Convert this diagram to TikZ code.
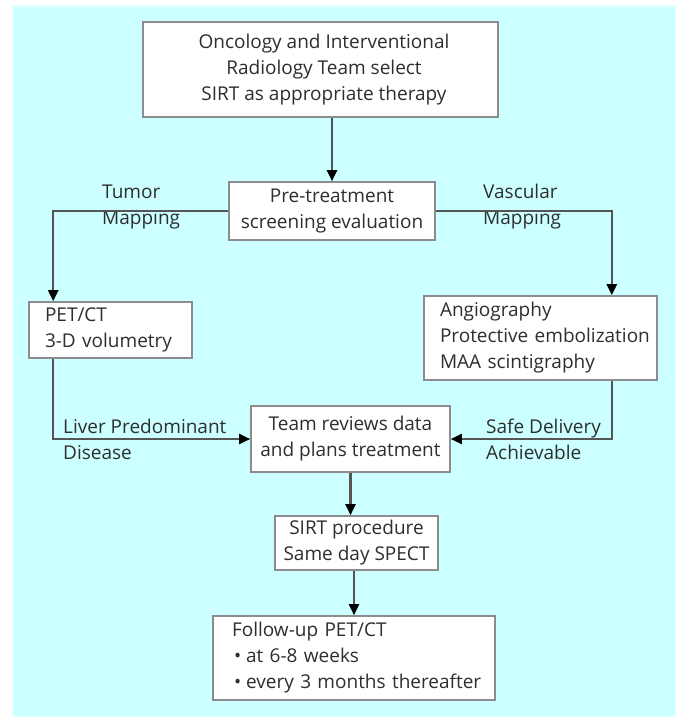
\documentclass[tikz,border=0pt]{standalone}
\usepackage{fontspec}
\setmainfont{Open Sans}
\usetikzlibrary{arrows.meta}
\definecolor{bgcyan}{HTML}{CCFFFF}
\definecolor{bgedge}{HTML}{E4FFFF}
\definecolor{boxgray}{HTML}{8C8C8C}
\definecolor{linegray}{HTML}{555555}
\definecolor{txtgray}{HTML}{2E2E2E}
\tikzset{
  stage/.style={draw=boxgray, line width=1.6pt, fill=white, text=txtgray,
    inner sep=0pt, align=center, font=\fontsize{19}{26}\selectfont},
  lstage/.style={stage, align=left},
  lbl/.style={inner sep=0pt, align=left, text=txtgray,
    font=\fontsize{19}{26}\selectfont},
  flow/.style={draw=linegray, line width=2.2pt,
    -{Triangle[length=11pt,width=10pt,color=black]}}
}
\begin{document}
\begin{tikzpicture}[x=1pt,y=-1pt]
      \useasboundingbox (0,0) rectangle (676,717);
      \fill[bgcyan, draw=bgedge, line width=2pt] (13,6) rectangle (676,717);
      \draw
        (320.5,69.5) node[stage, minimum width=355pt, minimum height=95pt] (select)
          {\hspace*{7pt}Oncology and Interventional\\\hspace*{7pt}Radiology Team select\\\hspace*{7pt}SIRT as appropriate therapy}
        (332,211) node[stage, minimum width=206pt, minimum height=58pt] (screen)
          {Pre-treatment\\screening evaluation}
        (110.5,330) node[lstage, minimum width=163pt, minimum height=56pt, text width=131pt] (pet)
          {PET/CT\\3-D volumetry}
        (540.5,338) node[lstage, minimum width=233pt, minimum height=84pt, text width=201pt] (angio)
          {Angiography\\\mbox{Protective embolization}\\MAA scintigraphy}
        (350.5,439) node[stage, minimum width=199pt, minimum height=66pt] (team)
          {Team reviews data\\and plans treatment}
        (356.5,543) node[stage, minimum width=163pt, minimum height=54pt] (sirt)
          {SIRT procedure\\Same day SPECT}
        (354,658) node[lstage, minimum width=282pt, minimum height=84pt, text width=244pt] (follow)
          {Follow-up PET/CT\\\mbox{\hspace*{2pt}\textbullet\hspace{5pt}at 6-8 weeks}\\\mbox{\hspace*{2pt}\textbullet\hspace{5pt}every 3 months thereafter}};
      \draw
        (102,207) node[lbl, anchor=west] (tumor) {Tumor\\Mapping}
        (483,207) node[lbl, anchor=west] (vascular) {Vascular\\Mapping}
        (63,439) node[lbl, anchor=west] (liver) {Liver Predominant\\Disease}
        (486,439) node[lbl, anchor=west] (safe) {Safe Delivery\\Achievable};
      \begin{scope}[flow]
        \draw (select.south -| screen.north) to (screen.north);
        \draw (screen.west) -| ([xshift=25pt]pet.north west);
        \draw (screen.east) -| ([xshift=-46pt]angio.north east);
        \draw ([xshift=25pt]pet.south west) |- (team.west);
        \draw ([xshift=-46pt]angio.south east) |- (team.east);
        \draw (team.south) to (team.south |- sirt.north);
        \draw (sirt.south -| follow.north) to (follow.north);
      \end{scope}
    \end{tikzpicture}
\end{document}
